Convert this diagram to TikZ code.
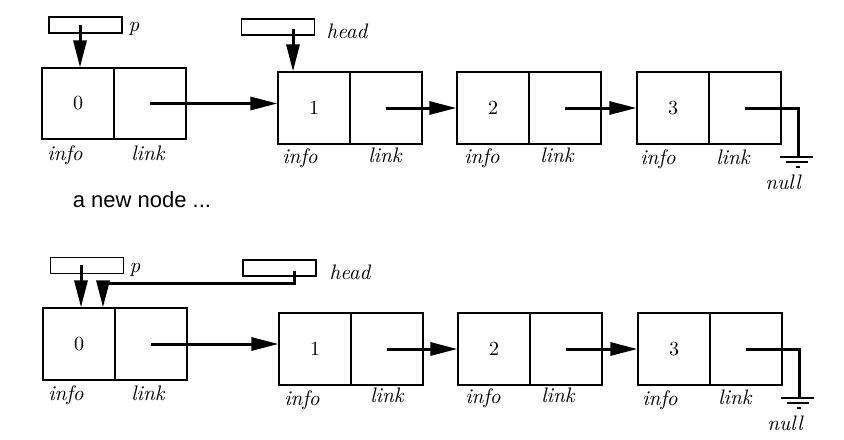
\documentclass[tikz,border=0pt]{standalone}
\usepackage{fontspec}
\newfontfamily\labelsans{Liberation Sans}
\usetikzlibrary{arrows.meta}
\begin{document}
\begin{tikzpicture}[x=0.5pt,y=-0.5pt,
  cell/.style={draw,line width=0.6pt,minimum width=36pt,minimum height=36pt,inner sep=0pt,font=\fontsize{10}{12}\selectfont},
  ptr/.style={draw,line width=0.6pt,minimum width=36.5pt,minimum height=8pt,inner sep=0pt},
  lbl/.style={font=\fontsize{10.5}{12}\selectfont\itshape,inner sep=0pt},
  arr/.style={line width=1.5pt,-{Triangle[length=13.5pt,width=6.5pt]}},
  wire/.style={line width=1.5pt},
  gnd/.style={line width=0.8pt}]
\useasboundingbox (0,0) rectangle (844,439);

% ---------- top row ----------
\node[cell,minimum height=35.5pt] (t0i) at (78,103.5) {0};
\node[cell,minimum height=35.5pt] (t0l) at (150,103.5) {};
\node[cell] (t1i) at (314,108) {1};
\node[cell] (t1l) at (386,108) {};
\node[cell] (t2i) at (493,108) {2};
\node[cell] (t2l) at (565,108) {};
\node[cell] (t3i) at (673,108) {3};
\node[cell] (t3l) at (745,108) {};

\node[ptr] (tp) at (85.5,25) {};
\node[lbl] (tplab) at (134,29) {p};
\node[ptr] (th) at (278,27) {};
\node[lbl] (thlab) at (347,31) {head};

\coordinate (tps) at (80,25);
\coordinate (ths) at (293,29);
\draw[arr] (tps) -- (tps |- t0i.north);
\draw[arr] (ths) -- (ths |- t1i.north);

\draw[arr] (t0l.center) -- (t0l.center -| t1i.west);
\draw[arr] (t1l.center) -- (t1l.center -| t2i.west);
\draw[arr] (t2l.center) -- (t2l.center -| t3i.west);

\coordinate (tg) at (798,157);
\draw[wire] (t3l.center) -| (tg);
\draw[gnd] ([xshift=-9pt]tg) -- ([xshift=7.5pt]tg);
\draw[gnd] ([xshift=-6pt,yshift=-2.5pt]tg) -- ([xshift=5pt,yshift=-2.5pt]tg);
\draw[gnd] ([xshift=-1pt,yshift=-5pt]tg) -- ([xshift=1pt,yshift=-5pt]tg);
\node[lbl] (tnull) at (783,182) {null};

\node[lbl] (t0inf) at (65,155) {info};
\node[lbl] (t0lnk) at (148,153) {link};
\node[lbl] (t1inf) at (300,158) {info};
\node[lbl] (t1lnk) at (385,155) {link};
\node[lbl] (t2inf) at (482,158) {info};
\node[lbl] (t2lnk) at (557,155) {link};
\node[lbl] (t3inf) at (658,159) {info};
\node[lbl] (t3lnk) at (733,157) {link};

\node[font=\labelsans\fontsize{11}{13}\selectfont,inner sep=0pt] (caption) at (142,200) {a new node ...};

% ---------- bottom row ----------
\node[cell] (b0i) at (79,344) {0};
\node[cell] (b0l) at (151,344) {};
\node[cell] (b1i) at (315,349) {1};
\node[cell] (b1l) at (387,349) {};
\node[cell] (b2i) at (494,349) {2};
\node[cell] (b2l) at (566,349) {};
\node[cell] (b3i) at (674,349) {3};
\node[cell] (b3l) at (746,349) {};

\node[ptr] (bp) at (87,265.5) {};
\node[lbl] (bplab) at (135,270) {p};
\node[ptr] (bh) at (279.5,268) {};
\node[lbl] (bhlab) at (350,272) {head};

\coordinate (bps) at (81,265);
\draw[arr] (bps) -- (bps |- b0i.north);
\coordinate (bhs) at (294,271);
\coordinate (bhb) at (103,283);
\draw[arr] (bhs) |- (bhb) -- (bhb |- b0i.north);

\draw[arr] (b0l.center) -- (b0l.center -| b1i.west);
\draw[arr] (b1l.center) -- (b1l.center -| b2i.west);
\draw[arr] (b2l.center) -- (b2l.center -| b3i.west);

\coordinate (bg) at (799,398);
\draw[wire] (b3l.center) -| (bg);
\draw[gnd] ([xshift=-9pt]bg) -- ([xshift=7.5pt]bg);
\draw[gnd] ([xshift=-6pt,yshift=-2.5pt]bg) -- ([xshift=5pt,yshift=-2.5pt]bg);
\draw[gnd] ([xshift=-1pt,yshift=-5pt]bg) -- ([xshift=1pt,yshift=-5pt]bg);
\node[lbl] (bnull) at (785,423) {null};

\node[lbl] (b0inf) at (66,395) {info};
\node[lbl] (b0lnk) at (148,393) {link};
\node[lbl] (b1inf) at (302,400) {info};
\node[lbl] (b1lnk) at (387,395) {link};
\node[lbl] (b2inf) at (483,398) {info};
\node[lbl] (b2lnk) at (558,395) {link};
\node[lbl] (b3inf) at (660,400) {info};
\node[lbl] (b3lnk) at (735,397) {link};
\end{tikzpicture}
\end{document}
